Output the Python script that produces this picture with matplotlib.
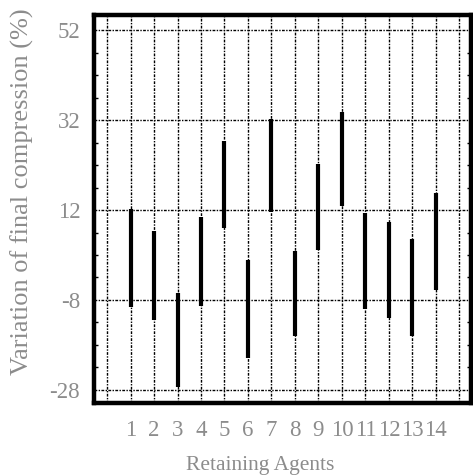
import matplotlib.pyplot as plt
import numpy as np

# agent number and the variation range (%) for each one
agents = list(range(1, 15))
lows = [-9.5, -12.4, -27.3, -9.3, 8.0, -20.9, 11.5, -16.0, 3.1, 12.9, -10.0, -12.0, -16.0, -5.8]
highs = [12.2, 7.3, -6.4, 10.4, 27.3, 0.9, 32.4, 2.9, 22.2, 33.8, 11.4, 9.3, 5.6, 15.8]
y_ticks = [-28, -8, 12, 32, 52]

txt_color = '#8c8c8c'
plt.rcParams['font.family'] = ['Liberation Serif', 'DejaVu Serif']
plt.rcParams['axes.unicode_minus'] = False

fig = plt.figure(figsize=(4.73, 4.76), dpi=100)
ax = fig.add_axes([0.199, 0.153, 0.797, 0.815])

ax.vlines(agents, lows, highs, color='black', linewidth=3.0, zorder=3)

ax.set_xlim(-0.55, 15.5)
ax.set_ylim(-31, 55.4)

# grid lines (x at 0..15, y every 20)
ax.set_xticks(range(0, 16))
ax.set_xticklabels([''] + [str(a) for a in agents] + [''])
ax.set_yticks(y_ticks)
ax.set_yticks(np.arange(-28, 55, 5), minor=True)
ax.grid(True, which='major', color='black', linewidth=1.0,
        linestyle=(0, (2, 1, 1, 1)), zorder=1)

ax.tick_params(axis='both', which='major', direction='in', length=0,
               labelsize=16.5, labelcolor=txt_color)
ax.tick_params(axis='x', which='major', pad=12)
ax.tick_params(axis='y', which='major', pad=10, right=True)
ax.tick_params(axis='y', which='minor', direction='in', length=3,
               width=1, left=True, right=True, color='black')

for s in ax.spines.values():
    s.set_linewidth(3.2)
    s.set_color('black')

ax.set_ylabel('Variation of final compression (%)', fontsize=19,
              color=txt_color)
ax.yaxis.set_label_coords(-0.159, 0.546)
ax.set_xlabel('Retaining Agents', fontsize=15.5, color=txt_color)
ax.xaxis.set_label_coords(0.44, -0.135)

plt.savefig('out.png', dpi=100)
